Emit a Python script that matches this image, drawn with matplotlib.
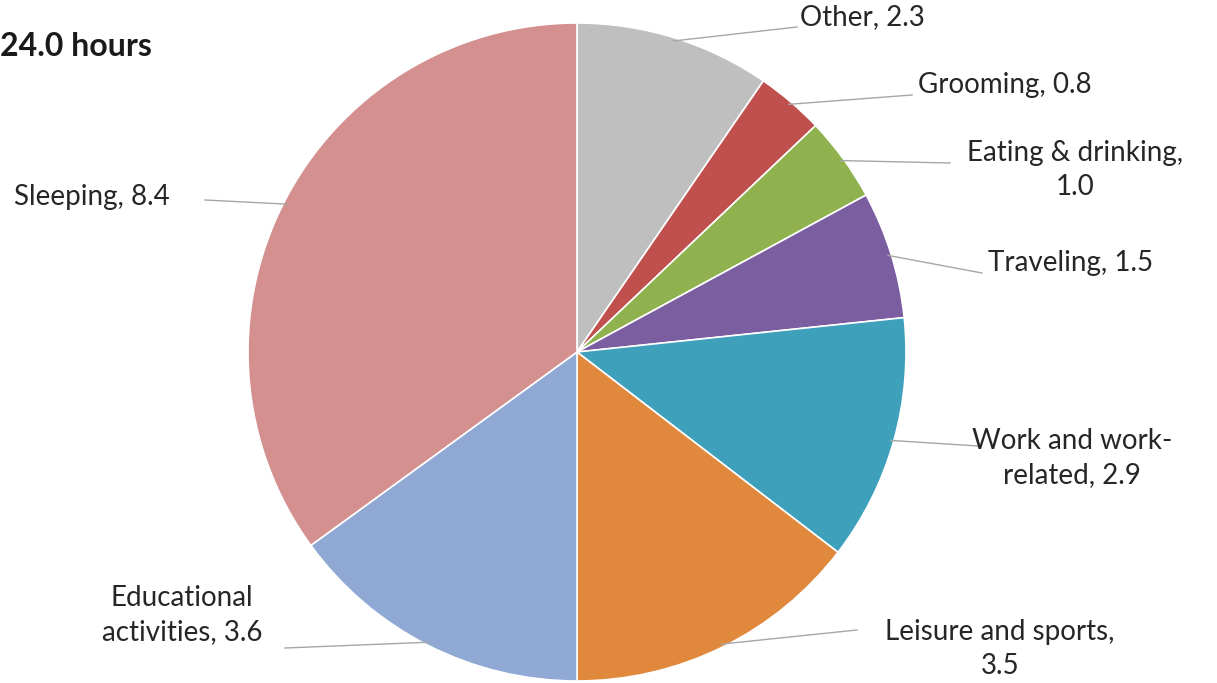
import numpy as np
import matplotlib
matplotlib.use('Agg')
import matplotlib.pyplot as plt

# Hours per day by activity
label_text = ['Other, 2.3', 'Grooming, 0.8', 'Eating & drinking,\n1.0',
              'Traveling, 1.5', 'Work and work-\nrelated, 2.9',
              'Leisure and sports,\n3.5', 'Educational\nactivities, 3.6',
              'Sleeping, 8.4']
hours = [2.3, 0.8, 1.0, 1.5, 2.9, 3.5, 3.6, 8.4]
colors = ['#bfbfbf', '#c0504d', '#8fb24f', '#7b5ea0', '#3fa0bb',
          '#e0883c', '#90a9d4', '#d48f8f']
total_label = '24.0 hours'

# layout in pixels (origin bottom-left)
W, H = 1217, 683
cx, cy, R = 577, 331, 329
# label anchor (x, y, ha) and leader line end point next to the label
label_pos = [(800, 666, 'left'), (918, 598, 'left'), (1075, 513, 'center'),
             (988, 420, 'left'), (1072, 225, 'center'), (1000, 34, 'center'),
             (182, 68, 'center'), (14, 486, 'left')]
line_end = [(797, 656), (912, 588), (950, 520), (982, 410),
            (978, 237), (857, 53), (285, 35), (205, 483)]

plt.rcParams['font.family'] = ['Lato', 'DejaVu Sans']

fig = plt.figure(figsize=(W / 100, H / 100), dpi=100)
ax = fig.add_axes([0, 0, 1, 1])

wedges, _ = ax.pie(hours, colors=colors, startangle=90, counterclock=False,
                   center=(cx, cy), radius=R, frame=True,
                   wedgeprops=dict(edgecolor='white', linewidth=1.2))
ax.set_xlim(0, W)
ax.set_ylim(0, H)
ax.set_aspect('equal')
ax.axis('off')

for w, txt, (tx, ty, ha), (lx, ly) in zip(wedges, label_text, label_pos, line_end):
    ang = np.deg2rad((w.theta1 + w.theta2) / 2)
    sx = cx + R * 0.99 * np.cos(ang)
    sy = cy + R * 0.99 * np.sin(ang)
    ax.plot([sx, lx], [sy, ly], color='#a6a6a6', linewidth=1)
    ax.text(tx, ty, txt, ha=ha, va='center', fontsize=20, color='#262626',
            linespacing=1.4)

ax.text(0, 636, total_label, ha='left', va='center', fontsize=23,
        fontweight='bold', color='#1a1a1a')

fig.savefig('out.png', dpi=100)
